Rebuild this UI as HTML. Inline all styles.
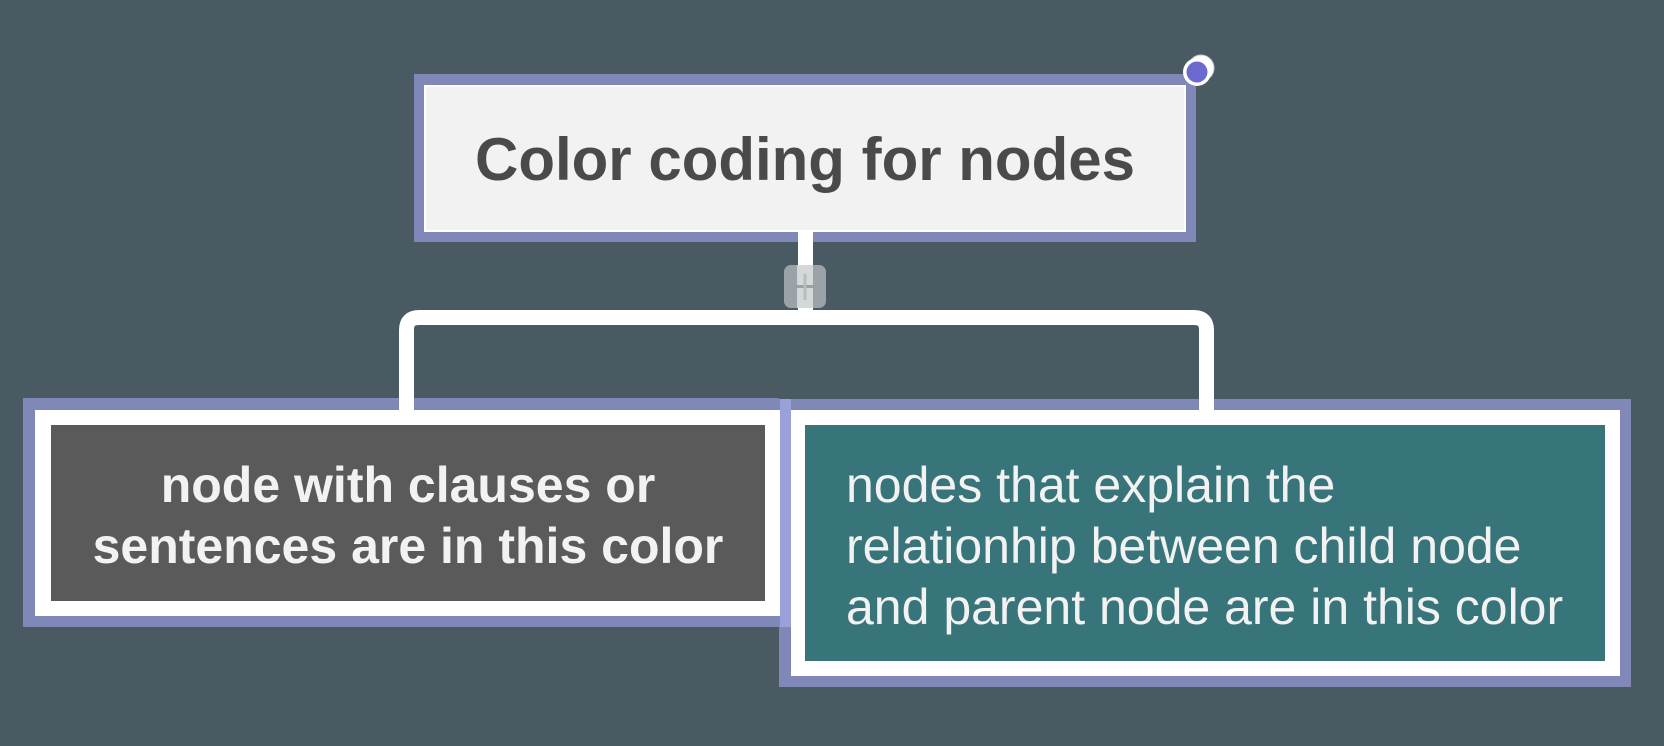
<!DOCTYPE html>
<html><head><meta charset="utf-8"><style>
html,body{margin:0;padding:0;background:#4a5a63;}
svg{display:block}
</style></head><body>
<svg width="1664" height="746" viewBox="0 0 1664 746" xmlns="http://www.w3.org/2000/svg">
<rect width="1664" height="746" fill="#4a5a63"/>
<rect x="414" y="74" width="782" height="168" fill="#8088b8"/>
<rect x="424" y="85" width="762" height="147" fill="#ffffff"/>
<rect x="426" y="87" width="758" height="143" fill="#f2f2f2"/>
<text x="805" y="180" text-anchor="middle" font-family="Liberation Sans, sans-serif" font-weight="bold" font-size="60" fill="#4a4a4a">Color coding for nodes</text>
<circle cx="1201" cy="68" r="13" fill="#ffffff" stroke="#c8c8d8" stroke-width="1"/>
<circle cx="1197" cy="72" r="14" fill="#ffffff"/>
<circle cx="1197" cy="72" r="10.5" fill="#6a6ad0"/>
<rect x="798" y="232" width="15" height="85" fill="#ffffff"/>
<path d="M406.5 412 V330 Q406.5 317.5 419 317.5 H1194 Q1206.5 317.5 1206.5 330 V412" fill="none" stroke="#ffffff" stroke-width="15"/>
<path d="M790 325 Q800 325 805 320 Q810 325 820 325 Z" fill="#ffffff"/>
<rect x="784" y="265" width="42" height="43" rx="7" fill="#a9b0b4" opacity="0.85"/>
<rect x="797" y="265" width="16" height="43" fill="#d8dadc" opacity="0.9"/>
<rect x="792" y="285" width="26" height="3" fill="#9aa0a4"/>
<rect x="803.5" y="274" width="3" height="26" fill="#b8bcbf"/>
<rect x="779" y="399" width="852" height="288" fill="#8088b8"/>
<rect x="791" y="410" width="829" height="266" fill="#ffffff"/>
<rect x="805" y="425" width="800" height="236" fill="#38757a"/>
<rect x="23" y="398" width="756" height="229" fill="#8088b8"/>
<rect x="35" y="410" width="745" height="206" fill="#ffffff"/>
<rect x="51" y="425" width="714" height="176" fill="#5a5a5a"/>
<rect x="780" y="399" width="11" height="228" fill="#9aa0d8"/>
<rect x="399" y="398" width="15" height="12" fill="#ffffff"/>
<rect x="1199" y="399" width="15" height="11" fill="#ffffff"/>
<g font-family="Liberation Sans, sans-serif" font-size="50" fill="#f2f2f2">
<text x="408" y="502" text-anchor="middle" font-weight="bold">node with clauses or</text>
<text x="408" y="563" text-anchor="middle" font-weight="bold">sentences are in this color</text>
<text x="846" y="502">nodes that explain the</text>
<text x="846" y="563">relationhip between child node</text>
<text x="846" y="624">and parent node are in this color</text>
</g>
</svg>
</body></html>
